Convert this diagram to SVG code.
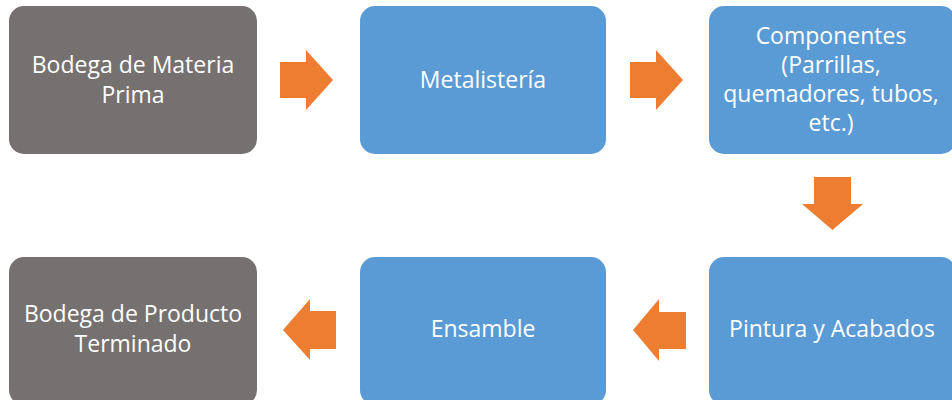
<svg xmlns="http://www.w3.org/2000/svg" width="952" height="400" viewBox="0 0 952 400">
<style>
.grey{fill:#767171}
.blue{fill:#5B9BD5}
.arr{fill:#ED7D31}
text{font-family:"Open Sans","Liberation Sans",sans-serif;font-size:23px;fill:#fff;text-anchor:middle}
</style>
<rect width="952" height="400" fill="#fff"/>
<g id="connectors">
<polygon class="arr" points="280,62 306,62 306,50 333,80 306,110 306,98 280,98"/>
<polygon class="arr" points="630,62 656,62 656,50 683,80 656,110 656,98 630,98"/>
<polygon class="arr" points="814,177 851,177 851,204 863,204 832.5,230 802,204 814,204"/>
<polygon class="arr" points="686,312 659,312 659,299 633,330 659,361 659,349 686,349"/>
<polygon class="arr" points="336,311 310,311 310,299 283,330 310,360 310,349 336,349"/>
</g>
<g id="n1"><rect class="grey" x="9" y="6" width="248" height="148" rx="15"/>
<text x="133" y="73">Bodega de Materia</text><text x="133" y="103">Prima</text></g>
<g id="n2"><rect class="blue" x="360" y="6" width="246" height="148" rx="15"/>
<text x="483" y="88">Metalistería</text></g>
<g id="n3"><rect class="blue" x="709" y="6" width="247" height="148" rx="15"/>
<text x="831" y="44">Componentes</text><text x="831" y="73">(Parrillas,</text><text x="831" y="102">quemadores, tubos,</text><text x="831" y="131">etc.)</text></g>
<g id="n4"><rect class="blue" x="709" y="257" width="247" height="148" rx="15"/>
<text x="832" y="337">Pintura y Acabados</text></g>
<g id="n5"><rect class="blue" x="360" y="257" width="246" height="148" rx="15"/>
<text x="483" y="337">Ensamble</text></g>
<g id="n6"><rect class="grey" x="9" y="257" width="248" height="148" rx="15"/>
<text x="133" y="322">Bodega de Producto</text><text x="133" y="352">Terminado</text></g>
</svg>
